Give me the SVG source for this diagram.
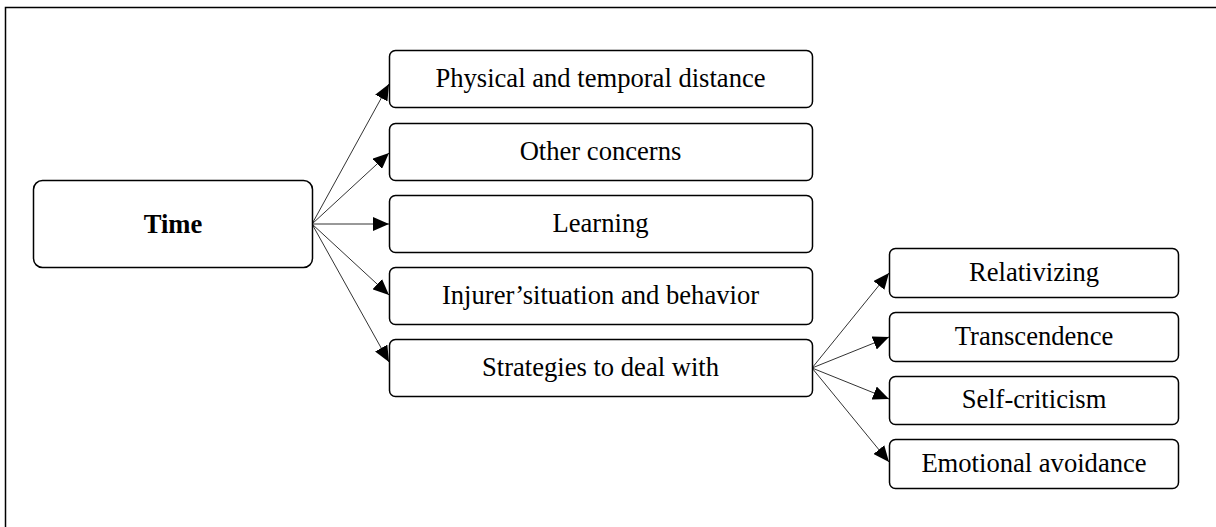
<svg xmlns="http://www.w3.org/2000/svg" width="1216" height="527" viewBox="0 0 1216 527">
  <style>
    .box { fill: #ffffff; stroke: #000000; stroke-width: 1.5; }
    .lbl { font-family: "Liberation Serif", "Times New Roman", serif; font-size: 26.6px; fill: #000000; text-anchor: middle; }
    .bold { font-weight: bold; }
    .conn { stroke: #333333; stroke-width: 1; fill: none; marker-end: url(#arrow); }
  </style>
  <defs>
    <marker id="arrow" markerUnits="userSpaceOnUse" markerWidth="16" markerHeight="14" refX="16" refY="7" orient="auto">
      <path d="M0,0 L16,7 L0,14 Z" fill="#000000"/>
    </marker>
  </defs>
  <rect x="0" y="0" width="1216" height="527" fill="#ffffff"/>
  <rect x="5.5" y="7.5" width="1230" height="540" fill="none" stroke="#000000" stroke-width="1.5"/>

  <g id="connectors">
    <line class="conn" x1="312" y1="224" x2="389" y2="84"/>
    <line class="conn" x1="312" y1="224" x2="389" y2="153"/>
    <line class="conn" x1="312" y1="224" x2="389" y2="224"/>
    <line class="conn" x1="312" y1="224" x2="389" y2="295"/>
    <line class="conn" x1="312" y1="224" x2="389" y2="362"/>
    <line class="conn" x1="812" y1="368" x2="889" y2="273"/>
    <line class="conn" x1="812" y1="368" x2="889" y2="337"/>
    <line class="conn" x1="812" y1="368" x2="889" y2="399"/>
    <line class="conn" x1="812" y1="368" x2="889" y2="462"/>
  </g>

  <g id="node-time">
    <rect class="box" x="33.5" y="180.5" width="279" height="87" rx="9"/>
    <text class="lbl bold" x="173" y="233">Time</text>
  </g>
  <g id="node-physical">
    <rect class="box" x="389.5" y="50.5" width="423" height="57" rx="6"/>
    <text class="lbl" x="600.5" y="87">Physical and temporal distance</text>
  </g>
  <g id="node-other">
    <rect class="box" x="389.5" y="123.5" width="423" height="57" rx="6"/>
    <text class="lbl" x="600.5" y="160">Other concerns</text>
  </g>
  <g id="node-learning">
    <rect class="box" x="389.5" y="195.5" width="423" height="57" rx="6"/>
    <text class="lbl" x="600.5" y="232">Learning</text>
  </g>
  <g id="node-injurer">
    <rect class="box" x="389.5" y="267.5" width="423" height="57" rx="6"/>
    <text class="lbl" x="600.5" y="304">Injurer’situation and behavior</text>
  </g>
  <g id="node-strategies">
    <rect class="box" x="389.5" y="339.5" width="423" height="57" rx="6"/>
    <text class="lbl" x="600.5" y="376">Strategies to deal with</text>
  </g>
  <g id="node-relativizing">
    <rect class="box" x="889.5" y="248.5" width="289" height="49" rx="6"/>
    <text class="lbl" x="1034" y="281">Relativizing</text>
  </g>
  <g id="node-transcendence">
    <rect class="box" x="889.5" y="312.5" width="289" height="49" rx="6"/>
    <text class="lbl" x="1034" y="345">Transcendence</text>
  </g>
  <g id="node-selfcriticism">
    <rect class="box" x="889.5" y="376.5" width="289" height="48" rx="6"/>
    <text class="lbl" x="1034" y="408">Self-criticism</text>
  </g>
  <g id="node-emotional">
    <rect class="box" x="889.5" y="439.5" width="289" height="49" rx="6"/>
    <text class="lbl" x="1034" y="472">Emotional avoidance</text>
  </g>
</svg>
